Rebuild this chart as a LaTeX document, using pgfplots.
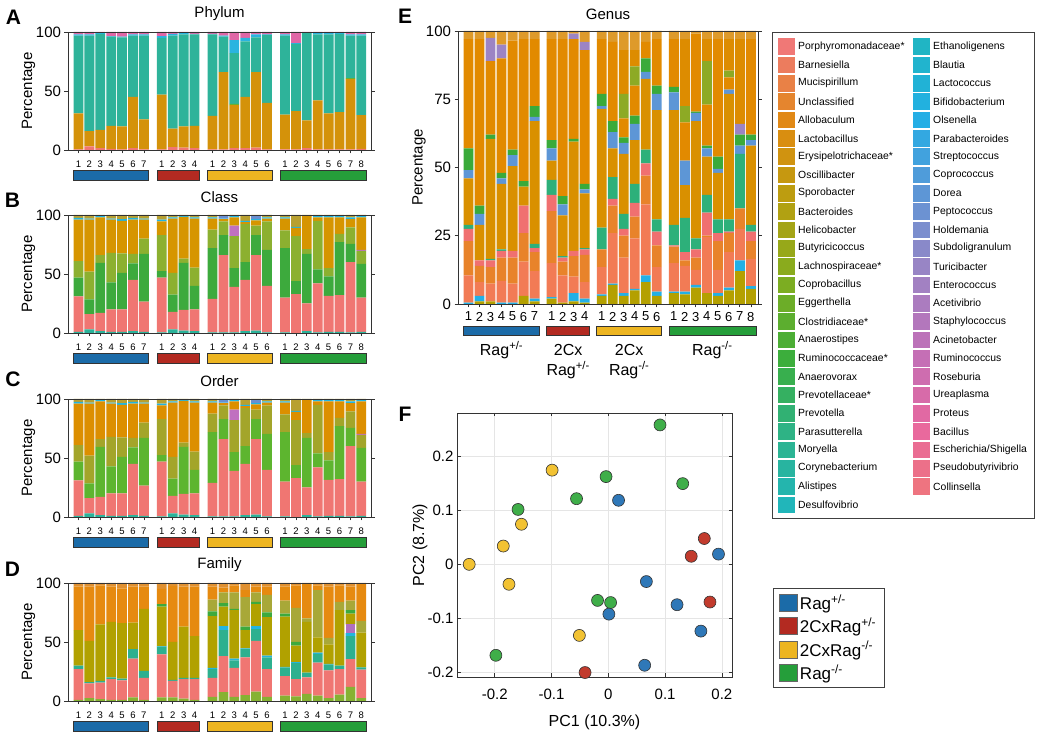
\documentclass[border=0pt]{standalone}
\usepackage{pgfplots}
\pgfplotsset{compat=1.18}
\usepackage{pgfplotstable}
\usepackage{fontspec}
\setmainfont{Liberation Sans}
\newcommand\fs[1]{\fontsize{#1}{#1}\selectfont}

\definecolor{h0}{HTML}{F07876}
\definecolor{h1}{HTML}{E08A10}
\definecolor{h2}{HTML}{B8A010}
\definecolor{h3}{HTML}{80AD20}
\definecolor{h4}{HTML}{3CAE3C}
\definecolor{h5}{HTML}{2DB38A}
\definecolor{h6}{HTML}{20B6C0}
\definecolor{h7}{HTML}{22B0E6}
\definecolor{h8}{HTML}{5D96D6}
\definecolor{h9}{HTML}{9C84C4}
\definecolor{h10}{HTML}{C070B8}
\definecolor{h11}{HTML}{E8689F}
\foreach \i in {0,...,50}{%
  \pgfmathsetmacro\myt{\i*12/51}%
  \pgfmathtruncatemacro\myk{floor(\myt)}%
  \pgfmathtruncatemacro\mykk{mod(\myk+1,12)}%
  \pgfmathsetmacro\myp{100*(1-\myt+\myk)}%
  \edef\tmp{\noexpand\xglobal\noexpand\colorlet{g\i}{h\myk!\myp!h\mykk}}%
  \tmp}

% group colours
\definecolor{grp1}{HTML}{1B6BA8}
\definecolor{grp2}{HTML}{B32A21}
\definecolor{grp3}{HTML}{EDB521}
\definecolor{grp4}{HTML}{259E3A}
\definecolor{pt1}{HTML}{2F78B8}
\definecolor{pt2}{HTML}{C23B2D}
\definecolor{pt3}{HTML}{F2C232}
\definecolor{pt4}{HTML}{3FAE49}
% panel A
\definecolor{aS}{HTML}{F07672}
\definecolor{aGold}{HTML}{D4920A}
\definecolor{aGrn}{HTML}{6AB030}
\definecolor{aTeal}{HTML}{2EB39A}
\definecolor{aCyan}{HTML}{2AB4E0}
\definecolor{aPink}{HTML}{E066A6}
% panel B/C
\definecolor{bTeal}{HTML}{2BB39A}
\definecolor{bSal}{HTML}{F07672}
\definecolor{bGreen}{HTML}{3DAA3D}
\definecolor{bYg}{HTML}{8CB030}
\definecolor{bPur}{HTML}{C070C0}
\definecolor{bGold}{HTML}{D69500}
\definecolor{bCyan}{HTML}{22B5E0}
\definecolor{bBlue}{HTML}{6A8FD0}
\definecolor{bTop}{HTML}{B8A030}
\definecolor{cGreen}{HTML}{5DB52F}
\definecolor{cOlive}{HTML}{A3A52A}
\definecolor{cGold}{HTML}{DC8F00}
% panel D
\definecolor{dLime}{HTML}{86B232}
\definecolor{dSal}{HTML}{F07672}
\definecolor{dTeal}{HTML}{2DB08F}
\definecolor{dCyan}{HTML}{22B5E0}
\definecolor{dPur}{HTML}{B070C0}
\definecolor{dOlive}{HTML}{B1A100}
\definecolor{dGreen}{HTML}{3DAA3D}
\definecolor{dOlive2}{HTML}{A8A838}
\definecolor{dOrange}{HTML}{E68A10}
\definecolor{dTop}{HTML}{E09030}
% panel E
\definecolor{eOlive}{HTML}{B4A000}
\definecolor{eCyan}{HTML}{22B0E6}
\definecolor{eBarn}{HTML}{F27B55}
\definecolor{eUnc}{HTML}{E8832A}
\definecolor{ePorph}{HTML}{F07070}
\definecolor{eTeal}{HTML}{2DB07A}
\definecolor{eGold}{HTML}{D99000}
\definecolor{eBlue}{HTML}{5D96D6}
\definecolor{eGreen}{HTML}{3AAA3A}
\definecolor{eAllob}{HTML}{E28A00}
\definecolor{eYg}{HTML}{8DAA25}
\definecolor{ePur}{HTML}{9C84C4}
\definecolor{eAllobB}{HTML}{DD8C00}
\definecolor{eTop}{HTML}{DE9A2A}

\pgfplotstableread{
x s gold grn teal cyan pink
1 0.5 30.5 0 66 1 2
2 3 13 0 81 1 2
3 1.5 15.5 0 81.5 0.5 1
4 1 19.5 0 75.5 0.5 3.5
5 0.5 19.5 0 75.5 0.5 4
6 1.5 43.5 0 52 1 2
7 0.5 25.5 0 71 1 2
8.65 0.5 46.5 0 48 1.5 3.5
9.65 2.5 15.5 0 79 1.5 1.5
10.65 2 18 0 78 1 1
11.65 1.5 19 0 77.5 0.5 1.5
13.3 0.5 28.5 0 69 0.5 1.5
14.3 0.5 65.5 0 30 1 3
15.3 1.5 36.5 1 43 11 7
16.3 1.5 43.5 0 47 3 5
17.3 2 64 0 29.5 2.5 2
18.3 0.5 39.5 0 57.5 0.5 2
19.95 0.5 29.5 0 67 1 2
20.95 0.5 32.5 0 57 0.5 9.5
21.95 1.5 23.5 0 74 0.5 0.5
22.95 0.5 41.5 0 56 1 1
23.95 0.5 30.5 0 67 1 1
24.95 0.5 31.5 0 66.5 0.5 1
25.95 0.5 59.5 1 36 1 2
26.95 1 28.5 0 67.5 1 2
}\tA

\pgfplotstableread{
x teal sal green yg pur gold cyan blue top
1 1 30 16 14 0 35 1.5 0 2.5
2 3 13 12.5 23.5 0 44 1 0 3
3 1.5 15.5 42.5 6.5 0 32 1 0 1
4 1 19 23 25 0 28 1 0 3
5 1 19 31 16.5 0 27.5 1.5 0 3.5
6 1.5 43.5 14 8 0 29 1.5 0 2.5
7 1 25.5 40.5 13 0 16 1 0 3
8.65 0.5 46.5 5.5 30.5 0 11.5 1.5 0 4
9.65 3 15 14.5 18.5 0 46 1 0 2
10.65 2 17.5 40 3.5 0 35.5 1 0 0.5
11.65 1.5 18.5 20 15.5 0 41.5 1 0 2
13.3 0.5 28.5 43 15.5 0 9.5 1 0 2
14.3 0.5 65.5 17 11.5 0 2 0.5 2 1
15.3 0.5 38.5 16 27 9 7 1 0 1
16.3 1.5 43.5 15 32.5 0 1.5 1 0 5
17.3 2 64 17 8 0 4.5 1 2.5 1
18.3 0.5 39.5 30.5 24 0 2.5 1 0 2
19.95 0.5 29.5 42 15 0 10 1 0 2
20.95 0 33 11 38 0 7 1 0 10
21.95 1.5 23.5 42 4 0 28 0.5 0 0.5
22.95 0.5 41.5 12 41 0 3 1 0 1
23.95 1 30.5 16.5 7 0 43 1 0 1
24.95 1 31 45 7 0 14 1 0 1
25.95 0.5 59.5 15.5 14 0 7 1.5 0 2
26.95 1 29 28.5 11 1 27.5 1 0 1
}\tB

\pgfplotstableread{
x lime sal teal cyan pur olive green olivetwo orange top
1 1 26 3 0 0 30 0 0 37 3
2 2.5 12.5 1 0 0 35 0 0 46 3
3 1.5 14 1.5 0 0 48 0 0 33 2
4 1 17.5 1.5 0 0 47 0 0 30 3
5 1 16.5 1.5 0 0 47 0 0 29.5 4.5
6 3 33 8 0 0 22.5 0 0 30.5 3
7 1 18.5 6 0 0 52.5 0 0 19 3
8.65 3 36.5 6.5 0.5 0 33.5 2 0 13 5
9.65 3 14 1 0 0 32 0 0 47.5 2.5
10.65 2 16.5 1 0 0 43.5 0 0 34 3
11.65 1 17.5 1 0 0 35.5 0 0 42 3
13.3 3.5 16 7.5 1 0 44 4 10 11 3
14.3 7.5 30.5 22 3.5 0 16.5 3 9 4 4
15.3 3.5 24.5 6.5 1.5 0 41 1 14 6 2
16.3 5 32 7 0.5 0 15.5 3 25 6 6
17.3 8 43 10 2.5 0 18.5 2 8 5 3
18.3 3.5 23.5 10 1.5 0 32.5 4 15 7 3
19.95 4.5 16.5 7.5 0.5 0 42.5 2.5 11 12 3
20.95 4 14.5 13.5 1 0 14 3 29 19 2
21.95 6 14 4 0 0 43 0 3 29 1
22.95 4.5 28 7.5 1 0 13 0 40 4 2
23.95 2.5 23.5 5 0.5 0 16.5 0 5.5 43.5 3
24.95 5.5 21.5 3 0 0 47 0 7 14 2
25.95 12 23.5 19.5 2.5 7.5 9 3 8 12 3
26.95 2.5 24 2 0 0 29.5 0 10 31 1
}\tD

\pgfplotstableread{
x olive cyan barn unc porph teal gold blue green allob yg pur allobb top
1 0 0.5 10 12.5 4.5 1.5 17 3 8 40 0 0 0 3
2 1 2 5 6 2 0 13 4 3 61 0 0 0 3
3 1 0 6.5 6 2.5 0.5 44 0 1.5 27 0 8.5 0 2.5
4 0 0.5 8 8.5 2.5 0.5 24 2 2 42 0 5 0 5
5 0 0.5 7 9.5 2.5 0 31 4 2 40 0 0 0 3.5
6 3 0 12.5 10.5 10 0 7 0 2 52 0 0 0 3
7 1 1 10 7 1.5 1.5 45 1.5 4 24.5 0 0 0 3
8.55 2 0.5 12.5 19 6 5.5 7 4.5 3 37 0 0 0 3
9.55 0.5 0 10 5 1.5 0.5 15 4 3 57.5 0 0 0 3
10.55 1 3 6 7.5 2 0 40 0 1 36.5 0 2 0 1
11.55 0.5 1.5 6 10 2 0.5 20 1.5 2 49 0 3 0 4
13.1 3 0.5 10 6.5 0 8 43.5 1 4.5 20 0 0 0 3
14.1 7 0.5 18.5 10 2.5 8 10.5 6 4 29 0 0 0 4
15.1 3 1 13 8 2.5 5.5 22 4 2 7 9 0 16 7
16.1 5 0.5 18.5 8 5 7 16 6 3 11 7 0 6 7
17.1 8 2.5 26 10.5 4.5 5 26 2.5 5 6 0 0 0 4
18.1 3 1.5 9 8 5 4.5 40 6 3 17 0 0 0 3
19.65 4 0.5 10.5 6 0.5 7.5 42 6.5 2 17.5 0 0 0 3
20.65 3.5 1 9.5 2 3 12.5 12 9 0 14 6 0 24.5 3
21.65 6 1 5.5 4.5 3 4 43 3 0.5 28.5 0 0 0 1
22.65 4 0 20.5 0.5 8.5 6.5 14 3 1 15 16 0 8 3
23.65 3 1 8.5 10.5 3 5 17 1.5 4.5 43 0 0 0 3
24.65 5 1 13 7 0.5 4.5 46 1.5 0 4.5 2.5 0 11.5 3
25.65 12 4 11.5 7.5 0 20 0 3 4 0 0 4 31 3
26.65 5.5 1 10 6.5 3.5 2.5 29 2 2 35 0 0 0 3
}\tE

\pgfplotsset{
  myaxis/.style={
    scale only axis, axis on top, clip=false,
    axis line style={black!80, line width=0.9pt},
    tick style={black!80, line width=0.7pt},
    major tick length=3.5pt,
    tick align=outside,
    every axis y label/.style={at={(axis description cs:-0.13,0.5)}, rotate=90, anchor=center, font=\fs{15}},
    yticklabel style={font=\fs{15}},
  },
  barpanel/.style={myaxis,
    width=303pt, height=118pt, xmin=0.04, xmax=27.84, ymin=0, ymax=100,
    ybar stacked, bar width=0.9,
    ytick={0,50,100}, yticklabels={0,50,100},
    xtick={1,2,3,4,5,6,7,8.65,9.65,10.65,11.65,13.3,14.3,15.3,16.3,17.3,18.3,19.95,20.95,21.95,22.95,23.95,24.95,25.95,26.95},
    xticklabels={1,2,3,4,5,6,7,1,2,3,4,1,2,3,4,5,6,1,2,3,4,5,6,7,8},
    xtick pos=bottom, ytick pos=both,
    xticklabel style={font=\fs{9.5}, yshift=-3.5pt},
    ylabel={Percentage},
    title style={font=\fs{15}, at={(axis description cs:0.5,1)}, anchor=center, yshift=12pt},
  },
}
\newcommand\groupbars{%
  \draw[fill=grp1, draw=black!80, line width=0.6pt] (axis cs:0.55,-17.5) rectangle (axis cs:7.45,-26);
  \draw[fill=grp2, draw=black!80, line width=0.6pt] (axis cs:8.2,-17.5) rectangle (axis cs:12.1,-26);
  \draw[fill=grp3, draw=black!80, line width=0.6pt] (axis cs:12.85,-17.5) rectangle (axis cs:18.75,-26);
  \draw[fill=grp4, draw=black!80, line width=0.6pt] (axis cs:19.5,-17.5) rectangle (axis cs:27.4,-26);}
\newcommand\classbars[3]{%
  \addplot[fill=bTeal, draw=none] table[x=x,y=teal]{\tB};
  \addplot[fill=bSal, draw=none] table[x=x,y=sal]{\tB};
  \addplot[fill=#1, draw=none] table[x=x,y=green]{\tB};
  \addplot[fill=#2, draw=none] table[x=x,y=yg]{\tB};
  \addplot[fill=bPur, draw=none] table[x=x,y=pur]{\tB};
  \addplot[fill=#3, draw=none] table[x=x,y=gold]{\tB};
  \addplot[fill=bCyan, draw=none] table[x=x,y=cyan]{\tB};
  \addplot[fill=bBlue, draw=none] table[x=x,y=blue]{\tB};
  \addplot[fill=bTop, draw=none] table[x=x,y=top]{\tB};}

\begin{document}
\begin{tikzpicture}
\path (0pt,0pt) rectangle (1038pt,735pt);

% ---------------- A: Phylum
\begin{axis}[barpanel, at={(68pt,585pt)}, title={Phylum}]
\addplot[fill=aS, draw=none] table[x=x,y=s]{\tA};
\addplot[fill=aGold, draw=none] table[x=x,y=gold]{\tA};
\addplot[fill=aGrn, draw=none] table[x=x,y=grn]{\tA};
\addplot[fill=aTeal, draw=none] table[x=x,y=teal]{\tA};
\addplot[fill=aCyan, draw=none] table[x=x,y=cyan]{\tA};
\addplot[fill=aPink, draw=none] table[x=x,y=pink]{\tA};
\groupbars
\end{axis}

% ---------------- B: Class
\begin{axis}[barpanel, at={(68pt,402pt)}, title={Class}]
\classbars{bGreen}{bYg}{bGold}
\groupbars
\end{axis}

% ---------------- C: Order
\begin{axis}[barpanel, at={(68pt,218pt)}, title={Order}]
\classbars{cGreen}{cOlive}{cGold}
\groupbars
\end{axis}

% ---------------- D: Family
\begin{axis}[barpanel, at={(68pt,34pt)}, title={Family}]
\addplot[fill=dLime, draw=none] table[x=x,y=lime]{\tD};
\addplot[fill=dSal, draw=none] table[x=x,y=sal]{\tD};
\addplot[fill=dTeal, draw=none] table[x=x,y=teal]{\tD};
\addplot[fill=dCyan, draw=none] table[x=x,y=cyan]{\tD};
\addplot[fill=dPur, draw=none] table[x=x,y=pur]{\tD};
\addplot[fill=dOlive, draw=none] table[x=x,y=olive]{\tD};
\addplot[fill=dGreen, draw=none] table[x=x,y=green]{\tD};
\addplot[fill=dOlive2, draw=none] table[x=x,y=olivetwo]{\tD};
\addplot[fill=dOrange, draw=none] table[x=x,y=orange]{\tD};
\addplot[fill=dTop, draw=none] table[x=x,y=top]{\tD};
\groupbars
\end{axis}

% ---------------- E: Genus
\begin{axis}[myaxis, at={(458pt,431pt)}, width=300pt, height=273pt,
  xmin=0.045, xmax=27.3, ymin=0, ymax=100,
  ybar stacked, bar width=0.9,
  ytick={0,25,50,75,100}, yticklabels={0,25,50,75,100},
  xtick={1,2,3,4,5,6,7,8.55,9.55,10.55,11.55,13.1,14.1,15.1,16.1,17.1,18.1,19.65,20.65,21.65,22.65,23.65,24.65,25.65,26.65},
  xticklabels={1,2,3,4,5,6,7,1,2,3,4,1,2,3,4,5,6,1,2,3,4,5,6,7,8},
  xtick pos=bottom, ytick pos=both,
  xticklabel style={font=\fs{13}, yshift=-1pt},
  ylabel={Percentage}, title={Genus},
  title style={font=\fs{15}, at={(axis description cs:0.5,1)}, anchor=center, yshift=11pt}]
\addplot[fill=eOlive, draw=none] table[x=x,y=olive]{\tE};
\addplot[fill=eCyan, draw=none] table[x=x,y=cyan]{\tE};
\addplot[fill=eBarn, draw=none] table[x=x,y=barn]{\tE};
\addplot[fill=eUnc, draw=none] table[x=x,y=unc]{\tE};
\addplot[fill=ePorph, draw=none] table[x=x,y=porph]{\tE};
\addplot[fill=eTeal, draw=none] table[x=x,y=teal]{\tE};
\addplot[fill=eGold, draw=none] table[x=x,y=gold]{\tE};
\addplot[fill=eBlue, draw=none] table[x=x,y=blue]{\tE};
\addplot[fill=eGreen, draw=none] table[x=x,y=green]{\tE};
\addplot[fill=eAllob, draw=none] table[x=x,y=allob]{\tE};
\addplot[fill=eYg, draw=none] table[x=x,y=yg]{\tE};
\addplot[fill=ePur, draw=none] table[x=x,y=pur]{\tE};
\addplot[fill=eAllobB, draw=none] table[x=x,y=allobb]{\tE};
\addplot[fill=eTop, draw=none] table[x=x,y=top]{\tE};
\draw[fill=grp1, draw=black!80, line width=0.6pt] (axis cs:0.55,-8.06) rectangle (axis cs:7.45,-11.36);
\draw[fill=grp2, draw=black!80, line width=0.6pt] (axis cs:8.1,-8.06) rectangle (axis cs:12.0,-11.36);
\draw[fill=grp3, draw=black!80, line width=0.6pt] (axis cs:12.65,-8.06) rectangle (axis cs:18.55,-11.36);
\draw[fill=grp4, draw=black!80, line width=0.6pt] (axis cs:19.2,-8.06) rectangle (axis cs:27.1,-11.36);
\node[font=\fs{16}] at (axis cs:4,-16.8) {Rag\textsuperscript{+/-}};
\node[font=\fs{16}] at (axis cs:10.05,-16.8) {2Cx};
\node[font=\fs{16}] at (axis cs:10.05,-24.2) {Rag\textsuperscript{+/-}};
\node[font=\fs{16}] at (axis cs:15.6,-16.8) {2Cx};
\node[font=\fs{16}] at (axis cs:15.6,-24.2) {Rag\textsuperscript{-/-}};
\node[font=\fs{16}] at (axis cs:23.15,-16.8) {Rag\textsuperscript{-/-}};
\end{axis}

% ---------------- F: PCA
\begin{axis}[myaxis, axis on top=false, at={(457pt,58pt)}, width=275pt, height=264pt,
  xmin=-0.2665, xmax=0.2178, ymin=-0.2093, ymax=0.2812,
  xtick={-0.2,-0.1,0,0.1,0.2}, xticklabels={-0.2,-0.1,0,0.1,0.2},
  ytick={-0.2,-0.1,0,0.1,0.2}, yticklabels={-0.2,-0.1,0,0.1,0.2},
  tick align=inside, tick pos=both,
  xticklabel style={font=\fs{15}, yshift=-8pt},
  grid=major, grid style={black!10, line width=0.6pt},
  xlabel={PC1 (10.3\%)}, ylabel={PC2 (8.7\%)},
  every axis x label/.style={at={(axis description cs:0.5,-0.17)}, anchor=center, font=\fs{16}},
  every axis y label/.style={at={(axis description cs:-0.135,0.5)}, rotate=90, anchor=center, font=\fs{16}},
  legend cell align=left,
  legend style={at={(1.149,0.337)}, anchor=north west, draw=black!75, line width=0.8pt,
    font=\fs{17}, row sep=3pt, inner xsep=6pt, inner ysep=4pt}]
\addlegendimage{legend image code/.code={\draw[fill=grp1,draw=black!60,line width=0.6pt] (0pt,-8.5pt) rectangle (18pt,8.5pt);}}
\addlegendentry{Rag\textsuperscript{+/-}}
\addlegendimage{legend image code/.code={\draw[fill=grp2,draw=black!60,line width=0.6pt] (0pt,-8.5pt) rectangle (18pt,8.5pt);}}
\addlegendentry{2CxRag\textsuperscript{+/-}}
\addlegendimage{legend image code/.code={\draw[fill=grp3,draw=black!60,line width=0.6pt] (0pt,-8.5pt) rectangle (18pt,8.5pt);}}
\addlegendentry{2CxRag\textsuperscript{-/-}}
\addlegendimage{legend image code/.code={\draw[fill=grp4,draw=black!60,line width=0.6pt] (0pt,-8.5pt) rectangle (18pt,8.5pt);}}
\addlegendentry{Rag\textsuperscript{-/-}}
\addplot[only marks, mark=*, mark size=6pt, mark options={fill=pt3, draw=black!80, line width=0.6pt}, forget plot] coordinates {
(-0.099,0.175) (-0.153,0.0745) (-0.185,0.034) (-0.245,0) (-0.175,-0.037) (-0.051,-0.132)};
\addplot[only marks, mark=*, mark size=6pt, mark options={fill=pt4, draw=black!80, line width=0.6pt}, forget plot] coordinates {
(-0.004,0.163) (-0.056,0.122) (0.131,0.150) (-0.159,0.102) (-0.019,-0.067) (0.004,-0.071) (-0.198,-0.169) (0.091,0.259)};
\addplot[only marks, mark=*, mark size=6pt, mark options={fill=pt1, draw=black!80, line width=0.6pt}, forget plot] coordinates {
(0.018,0.119) (0.194,0.019) (0.067,-0.032) (0.121,-0.075) (0.001,-0.0925) (0.163,-0.124) (0.064,-0.1875)};
\addplot[only marks, mark=*, mark size=6pt, mark options={fill=pt2, draw=black!80, line width=0.6pt}, forget plot] coordinates {
(0.169,0.048) (0.146,0.015) (0.179,-0.070) (-0.041,-0.201)};
\end{axis}

% ---------------- Genus legend
\begin{scope}[x=1pt,y=1pt]
\draw[black!75, line width=0.9pt] (772,703) rectangle (1034,217);
\foreach \n [count=\i from 0] in {Porphyromonadaceae*,Barnesiella,Mucispirillum,Unclassified,Allobaculum,Lactobacillus,Erysipelotrichaceae*,Oscillibacter,Sporobacter,Bacteroides,Helicobacter,Butyricicoccus,Lachnospiraceae*,Coprobacillus,Eggerthella,Clostridiaceae*,Anaerostipes,Ruminococcaceae*,Anaerovorax,Prevotellaceae*,Prevotella,Parasutterella,Moryella,Corynebacterium,Alistipes,Desulfovibrio,Ethanoligenens,Blautia,Lactococcus,Bifidobacterium,Olsenella,Parabacteroides,Streptococcus,Coprococcus,Dorea,Peptococcus,Holdemania,Subdoligranulum,Turicibacter,Enterococcus,Acetivibrio,Staphylococcus,Acinetobacter,Ruminococcus,Roseburia,Ureaplasma,Proteus,Bacillus,Escherichia/Shigella,Pseudobutyrivibrio,Collinsella}{
  \pgfmathtruncatemacro\col{\i>25 ? 1 : 0}
  \pgfmathtruncatemacro\row{\i>25 ? \i-26 : \i}
  \pgfmathsetmacro\xx{778+135*\col}
  \pgfmathsetmacro\yy{735-38.3-18.33*\row}
  \fill[g\i] (\xx,\yy) rectangle ++(17,-16.7);
  \node[anchor=west, font=\fs{10.4}, inner sep=0pt] at (\xx+20,\yy-8.35) {\n};
}
% panel letters
\node[font=\bfseries\fs{21}] at (13.5,717.5) {A};
\node[font=\bfseries\fs{21}] at (12.5,534.5) {B};
\node[font=\bfseries\fs{21}] at (13,356) {C};
\node[font=\bfseries\fs{21}] at (12.5,166) {D};
\node[font=\bfseries\fs{21}] at (405,719) {E};
\node[font=\bfseries\fs{21}] at (405,321) {F};
\end{scope}
\end{tikzpicture}
\end{document}
